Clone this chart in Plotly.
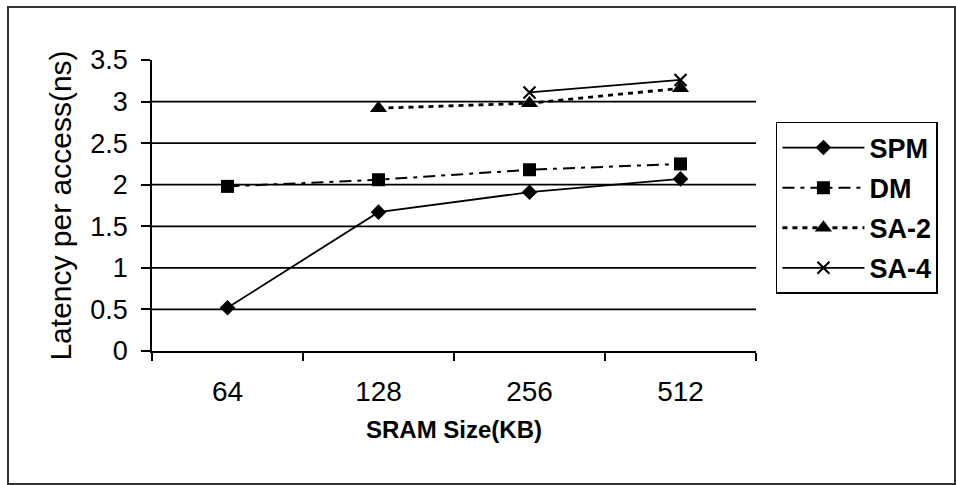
import plotly.graph_objects as go

categories = ["64", "128", "256", "512"]
spm = [0.52, 1.67, 1.91, 2.07]
dm = [1.98, 2.06, 2.18, 2.25]
sa2 = [None, 2.92, 2.98, 3.16]
sa4 = [None, None, 3.11, 3.26]
y_ticks = [0, 0.5, 1, 1.5, 2, 2.5, 3, 3.5]
y_tick_text = ["0", "0.5", "1", "1.5", "2", "2.5", "3", "3.5"]
grid_values = [0.5, 1, 1.5, 2, 2.5, 3]

FONT = "Arial, 'Liberation Sans', sans-serif"

fig = go.Figure()
fig.add_trace(go.Scatter(x=categories, y=spm, name="SPM", mode="lines+markers",
                         legendgroup="a",
                         line=dict(color="black", width=1.8),
                         marker=dict(symbol="diamond", size=12, color="black")))
fig.add_trace(go.Scatter(x=categories, y=dm, name="DM", mode="lines+markers",
                         legendgroup="b",
                         line=dict(color="black", width=2, dash="12px,6px,4px,6px"),
                         marker=dict(symbol="square", size=13, color="black")))
fig.add_trace(go.Scatter(x=categories, y=sa2, name="SA-2", mode="lines+markers",
                         legendgroup="c",
                         line=dict(color="black", width=2.8, dash="5px,5px"),
                         marker=dict(symbol="triangle-up", size=15, color="black")))
fig.add_trace(go.Scatter(x=categories, y=sa4, name="SA-4", mode="lines+markers",
                         legendgroup="d",
                         line=dict(color="black", width=1.8),
                         marker=dict(symbol="x-thin", size=12, color="black",
                                     line=dict(color="black", width=2.2))))

shapes = []
for g in grid_values:
    shapes.append(dict(type="line", xref="paper", yref="y", x0=0, x1=1, y0=g, y1=g,
                       line=dict(color="black", width=1.8), layer="below"))
shapes.append(dict(type="rect", xref="paper", yref="paper",
                   x0=-0.2384, x1=1.3295, y0=-0.457, y1=1.182,
                   line=dict(color="#333333", width=2), layer="below"))

fig.update_layout(
    width=956, height=485,
    margin=dict(l=152, r=200, t=60, b=134),
    paper_bgcolor="white", plot_bgcolor="white",
    font=dict(family=FONT, color="black"),
    shapes=shapes,
    legend=dict(x=1.033, xanchor="left", y=0.787, yanchor="top",
                bordercolor="black", borderwidth=1.5,
                font=dict(size=27, family=FONT, weight="bold"),
                tracegroupgap=2, traceorder="grouped", itemwidth=82),
    xaxis=dict(type="category", range=[-0.5, 3.5], showgrid=False,
               showline=True, linecolor="black", linewidth=1.8,
               ticks="outside", tickson="boundaries", ticklen=8,
               tickcolor="black", tickwidth=1.8, ticklabelstandoff=14,
               tickfont=dict(size=28, family=FONT),
               title=dict(text="SRAM Size(KB)", standoff=16,
                          font=dict(size=24, family=FONT, weight="bold"))),
    yaxis=dict(range=[0, 3.5], tickvals=y_ticks, ticktext=y_tick_text,
               showgrid=False, zeroline=False,
               showline=True, linecolor="black", linewidth=1.8,
               ticks="outside", ticklen=9, tickcolor="black", tickwidth=1.8,
               ticklabelstandoff=8,
               tickfont=dict(size=27, family=FONT),
               title=dict(text="Latency per access(ns)", standoff=10,
                          font=dict(size=30, family=FONT))),
)

fig.write_html("out.html")
